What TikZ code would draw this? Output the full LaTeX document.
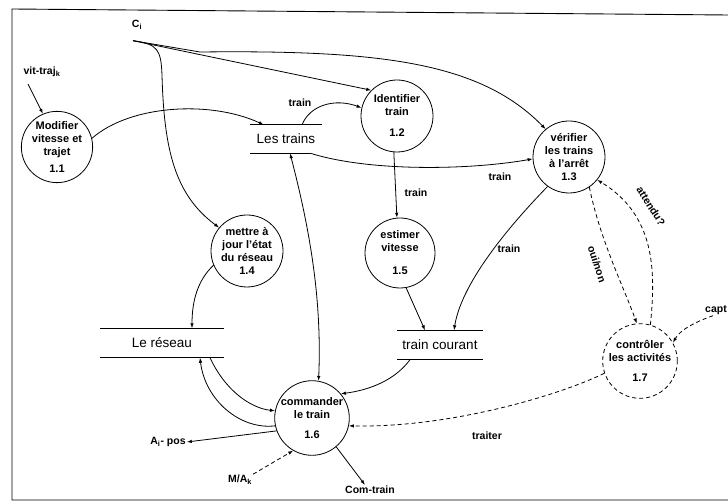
\documentclass[tikz,border=0pt]{standalone}
\usepackage{fontspec}
\setmainfont{Liberation Sans}
\usetikzlibrary{arrows.meta}
\begin{document}
\begin{tikzpicture}[x=1pt,y=-1pt,
  flow/.style={line width=0.8pt,-{Latex[length=5pt,width=3.5pt]}},
  dflow/.style={flow,dash pattern=on 4pt off 3pt},
  both/.style={line width=0.8pt,{Latex[length=5pt,width=3.5pt]}-{Latex[length=5pt,width=3.5pt]}},
  proc/.style={circle,draw,line width=0.8pt,minimum size=70pt,inner sep=0pt,align=center,font=\fontsize{11}{13}\selectfont\bfseries},
  dproc/.style={proc,dash pattern=on 4pt off 3pt},
  store/.style={inner sep=0pt,font=\fontsize{13.5}{15}\selectfont},
  lab/.style={inner sep=1pt,font=\fontsize{10.5}{12}\selectfont\bfseries},
  rule/.style={line width=0.8pt}]
\useasboundingbox (0,0) rectangle (728,502);
% frame
\draw[line width=0.9pt] (728,15) -- (12,9) -- (12,500) -- (728,500);

% stores
\node[store,minimum width=72pt,minimum height=28pt] (lt) at (286,139) {Les trains};
\draw[rule] (lt.north west) -- (lt.north east) (lt.south west) -- ([xshift=-12pt]lt.south east);
\node[store,minimum width=123pt,minimum height=29pt] (rs) at (162,343) {Le réseau};
\draw[rule] (rs.north west) -- (rs.north east) (rs.south west) -- (rs.south east);
\node[store,minimum width=85pt,minimum height=29pt] (tc) at (440,345) {train courant};
\draw[rule] (tc.north west) -- (tc.north east) (tc.south west) -- (tc.south east);

% processes
\node[proc,minimum size=70pt] (c11) at (57,147) {Modifier\\vitesse et\\trajet\\[4pt]1.1};
\node[proc,minimum size=72pt] (c12) at (397,116) {Identifier\\train\\[8pt]1.2};
\node[proc,minimum size=72pt] (c13) at (569,157) {vérifier\\les trains\\à l'arrêt\\1.3};
\node[proc,minimum size=72pt] (c14) at (247,251) {mettre à\\jour l'état\\du réseau\\1.4};
\node[proc,minimum size=70pt] (c15) at (400,253) {estimer\\vitesse\\[10pt]1.5};
\node[proc,minimum size=70pt] (c16) at (312,418) {commander\\le train\\[7pt]1.6};
\node[dproc,minimum size=70pt] (c17) at (640,361) {contrôler\\les activités\\[7pt]1.7};

% external labels
\node[lab] (ci) at (137,25) {C\textsubscript{i}};
\node[lab] (vit) at (42,72) {vit-traj\textsubscript{k}};
\node[lab] (ai) at (168,442) {A\textsubscript{i}- pos};
\node[lab] (mak) at (240,480) {M/A\textsubscript{k}};
\node[lab] (com) at (370,490) {Com-train};
\node[lab] (capt) at (716,310) {capt};

% flows
\draw[flow] ([xshift=-14pt,yshift=-6pt]vit.south) -- (c11.113);
\draw[flow] (c11.14) .. controls (130,105) and (210,100) .. ([xshift=14pt]lt.north west);
\draw[flow] ([shift={(-4pt,-10pt)}]ci.south) .. controls (158,44) and (161,50) .. (162,75)
   .. controls (164,150) and (175,195) .. (c14.140);
\draw[flow] ([shift={(-4pt,-10pt)}]ci.south) -- (c12.135);
\draw[flow] ([shift={(-4pt,-10pt)}]ci.south) -- (200,52) .. controls (380,50) and (480,62) .. (c13.130);
\draw[flow] ([xshift=16pt]lt.north) .. controls (310,105) and (335,98) .. (c12.167);
\node[lab] (l1) at (300,103) {train};
\draw[flow] ([xshift=-12pt]lt.south east) .. controls (370,172) and (470,170) .. (c13.183);
\node[lab] (l2) at (500,177) {train};
\draw[flow] (c12.265) -- (c15.95);
\node[lab] (l3) at (416,193) {train};
\draw[both] ([xshift=4pt]lt.south) .. controls (310,230) and (322,300) .. (c16.80);
\draw[flow] (c14.203) .. controls (198,280) and (192,300) .. ([xshift=30pt]rs.north);
\draw[flow] (c15.-80) -- ([xshift=-15pt]tc.north);
\draw[flow] (c13.234) .. controls (515,220) and (462,280) .. ([xshift=14pt]tc.north);
\node[lab] (l4) at (509,249) {train};
\draw[flow] ([xshift=48pt]rs.south) .. controls (225,390) and (250,408) .. (c16.169);
\draw[flow] (c16.192) .. controls (240,430) and (205,400) .. ([xshift=38pt]rs.south);
\draw[flow] ([xshift=-30pt]tc.south) .. controls (395,380) and (370,390) .. (c16.40);
\draw[flow] (c16.200) -- (ai.east);
\draw[dflow] (mak.north east) -- (c16.240);
\draw[flow] (c16.-50) -- ([xshift=-5pt]com.north);
\draw[dflow] (c17.199) .. controls (560,395) and (450,428) .. (c16.-12);
\node[lab] (l5) at (487,436) {traiter};
\draw[dflow] (c13.-56) .. controls (600,240) and (625,290) .. (c17.95);
\node[lab,rotate=-72] (l6) at (597,264) {oui/non};
\draw[dflow] (c17.74) .. controls (656,270) and (655,215) .. (c13.-39);
\node[lab,rotate=-58] (l7) at (651,206) {attendu?};
\draw[dflow] ([xshift=-3pt]capt.south) .. controls (695,322) and (680,330) .. (c17.29);
\end{tikzpicture}
\end{document}
